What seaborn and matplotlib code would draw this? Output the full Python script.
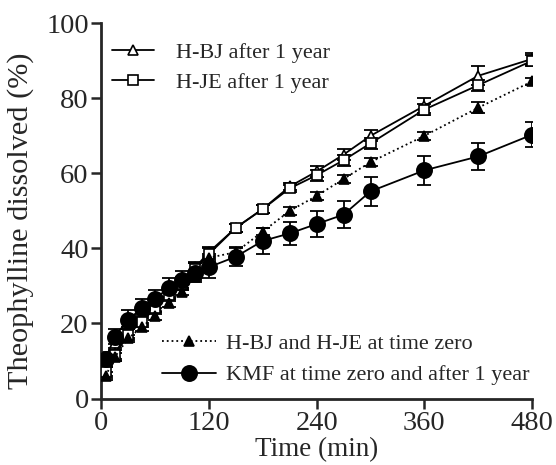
import numpy as np
import pandas as pd
import seaborn as sns
import matplotlib
matplotlib.use('Agg')
import matplotlib.pyplot as plt

# sampling times (min)
times = [5, 15, 30, 45, 60, 75, 90, 105, 120, 150, 180, 210, 240, 270, 300, 360, 420, 480]

# H-BJ after 1 year (open triangles)
hbj_1y = [7.5, 12, 17.5, 21, 24.5, 28, 31, 35, 39, 45.5, 50.5, 56.5, 60.5, 65, 70, 78, 86, 90.5]
hbj_1y_err = [1.5, 1.5, 1.5, 1.5, 1.5, 1.5, 1.5, 1.5, 1.5, 1, 1, 1, 1.5, 1.5, 1.5, 2, 2.5, 1.5]

# H-JE after 1 year (open squares)
hje_1y = [7, 11.5, 17, 20.5, 24, 27.5, 30.5, 34.5, 38.5, 45.5, 50.5, 56, 59.5, 63.5, 68, 77, 83.5, 90]
hje_1y_err = [1.5, 1.5, 1.5, 1.5, 1.5, 1.5, 1.5, 1.5, 1.5, 1, 1, 1, 1.5, 1.5, 1.5, 1.5, 1.5, 1.5]

# H-BJ and H-JE at time zero (filled triangles)
h_t0 = [6, 11, 16, 19, 22, 25.5, 28.5, 32.5, 37.5, 39, 44.5, 50, 54, 58.5, 63, 70, 77.5, 84.5]
h_t0_err = [1, 1, 1, 1, 1, 1, 1, 1, 1, 1, 1, 1, 1, 1, 1, 1, 1.5, 1]

# KMF at time zero and after 1 year (filled circles)
kmf = [10.5, 16.5, 21, 24, 26.5, 29.5, 31.5, 33.5, 35, 37.8, 42, 44, 46.5, 49, 55.2, 60.8, 64.5, 70.3]
kmf_err = [2, 2, 2.5, 2.5, 2.5, 2.5, 2.5, 2.5, 3, 2.5, 3.5, 3, 3.5, 3.5, 3.8, 3.8, 3.7, 3.3]

legend_upper = ['H-BJ after 1 year', 'H-JE after 1 year']
legend_lower = ['H-BJ and H-JE at time zero', 'KMF at time zero and after 1 year']

sns.set_style('ticks')
plt.rcParams['font.family'] = ['Liberation Serif', 'DejaVu Serif']

fig = plt.figure(figsize=(5.56, 4.65), dpi=100)
ax = fig.add_axes([0.182, 0.143, 0.775, 0.807])

series = [
    (hbj_1y, hbj_1y_err, '^', 'white', '-', 7.5, legend_upper[0]),
    (hje_1y, hje_1y_err, 's', 'white', '-', 7, legend_upper[1]),
    (h_t0, h_t0_err, '^', 'black', ':', 7, legend_lower[0]),
    (kmf, kmf_err, 'o', 'black', '-', 11, legend_lower[1]),
]

handles = []
for y, err, mk, fc, ls, ms, lab in series:
    ax.errorbar(times, y, yerr=err, fmt='none', ecolor='black',
                elinewidth=1.3, capsize=5, capthick=1.3, zorder=2)
    sns.lineplot(x=times, y=y, ax=ax, color='black', linestyle=ls, linewidth=1.3,
                 marker=mk, markersize=ms, markerfacecolor=fc,
                 markeredgecolor='black', markeredgewidth=1.2, zorder=3)
    line = ax.lines[-1]
    line.set_label(lab)
    handles.append(line)

ax.set_xlim(0, 480)
ax.set_ylim(0, 100)
ax.set_xticks([0, 120, 240, 360, 480])
ax.set_yticks([0, 20, 40, 60, 80, 100])
ax.tick_params(axis='both', labelsize=20.5, width=1.8, length=7, direction='out', pad=2)
for s in ['left', 'bottom']:
    ax.spines[s].set_linewidth(2)
sns.despine(ax=ax)
ax.set_xlabel('Time (min)', fontsize=19.5, labelpad=1)
ax.set_ylabel('Theophylline dissolved (%)', fontsize=21.8)
ax.yaxis.set_label_coords(-0.155, 0.475)

leg1 = ax.legend(handles=handles[:2], loc='upper left', bbox_to_anchor=(0.025, 0.95),
                 frameon=False, fontsize=16, handlelength=1.9, numpoints=1,
                 handletextpad=1.0, labelspacing=0.45, borderpad=0, borderaxespad=0)
ax.add_artist(leg1)
ax.legend(handles=handles[2:], loc='lower right', bbox_to_anchor=(0.995, 0.035),
          frameon=False, fontsize=16, handlelength=2.45, numpoints=1,
          handletextpad=0.45, labelspacing=0.5, borderpad=0, borderaxespad=0)

fig.savefig('out.png', dpi=100)
